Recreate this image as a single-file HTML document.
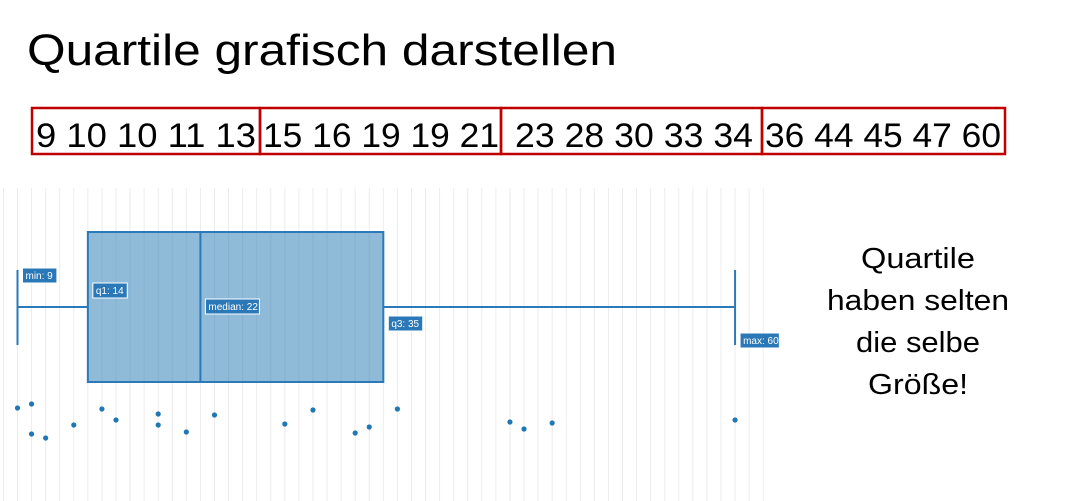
<!DOCTYPE html>
<html><head><meta charset="utf-8"><style>
html,body{margin:0;padding:0;background:#fff;}
svg{display:block;font-family:"Liberation Sans",sans-serif;}
</style></head><body>
<svg id="chart" width="1091" height="501" viewBox="0 0 1091 501">
<text x="27" y="65" font-size="44" fill="#000" textLength="590" lengthAdjust="spacingAndGlyphs">Quartile grafisch darstellen</text>
<g>
<rect x="32" y="108" width="228" height="46" fill="none" stroke="#c00000" stroke-width="2.5"/>
<rect x="260" y="108" width="241" height="46" fill="none" stroke="#c00000" stroke-width="2.5"/>
<rect x="501" y="108" width="261" height="46" fill="none" stroke="#c00000" stroke-width="2.5"/>
<rect x="762" y="108" width="243" height="46" fill="none" stroke="#c00000" stroke-width="2.5"/>
<text x="36" y="147" font-size="34" textLength="220" lengthAdjust="spacingAndGlyphs">9 10 10 11 13</text>
<text x="263" y="147" font-size="34" textLength="236" lengthAdjust="spacingAndGlyphs">15 16 19 19 21</text>
<text x="515" y="147" font-size="34" textLength="238" lengthAdjust="spacingAndGlyphs">23 28 30 33 34</text>
<text x="765" y="147" font-size="34" textLength="236" lengthAdjust="spacingAndGlyphs">36 44 45 47 60</text>
</g>
<g id="grid"></g>
<g id="plot"></g>
<g font-size="29" text-anchor="middle" fill="#000">
<text x="918" y="268" textLength="114" lengthAdjust="spacingAndGlyphs">Quartile</text>
<text x="918" y="310" textLength="182" lengthAdjust="spacingAndGlyphs">haben selten</text>
<text x="918" y="352" textLength="124" lengthAdjust="spacingAndGlyphs">die selbe</text>
<text x="918" y="394" textLength="100" lengthAdjust="spacingAndGlyphs">Größe!</text>
</g>
</svg>
<script>
const values = [9,10,10,11,13,15,16,19,19,21,23,28,30,33,34,36,44,45,47,60];
const jitterY = [408,404,434,438,425,409,420,414,425,432,415,424,410,433,427,409,422,429,423,420];
const statNames = ["min","q1","median","q3","max"];
const statValues = [9,14,22,35,60];
const gridMin = 8, gridMax = 62;
const NS="http://www.w3.org/2000/svg";
function x(v){return 17.5+(v-9)*14.07;}
function mk(tag,attrs,parent){const e=document.createElementNS(NS,tag);for(const k in attrs)e.setAttribute(k,attrs[k]);parent.appendChild(e);return e;}
const grid=document.getElementById('grid'), plot=document.getElementById('plot');
for(let v=gridMin;v<=gridMax;v++){
  const l=mk('line',{x1:x(v),x2:x(v),y1:188,y2:501,stroke:'#ececec','stroke-width':1},grid);
  
  
}
const [mn,q1,md,q3,mx]=statValues;
const C='#2a7ab9';
let e;
e=mk('rect',{x:x(q1),y:232,width:x(q3)-x(q1),height:150,fill:'rgba(31,119,180,0.5)',stroke:C,'stroke-width':2},plot);


e=mk('line',{x1:x(md),x2:x(md),y1:232,y2:382,stroke:C,'stroke-width':2},plot);


e=mk('line',{x1:x(mn),x2:x(q1),y1:307,y2:307,stroke:C,'stroke-width':2},plot);


e=mk('line',{x1:x(q3),x2:x(mx),y1:307,y2:307,stroke:C,'stroke-width':2},plot);


e=mk('line',{x1:x(mn),x2:x(mn),y1:270,y2:345,stroke:C,'stroke-width':2},plot);


e=mk('line',{x1:x(mx),x2:x(mx),y1:270,y2:345,stroke:C,'stroke-width':2},plot);


values.forEach((v,i)=>{
  const d=mk('circle',{cx:x(v),cy:jitterY[i],r:2.6,fill:'#1f77b4'},plot);
  
  
});
const labelY=[268,283,299,316,333];
statNames.forEach((n,i)=>{
  const g=mk('g',{},plot);
  
  
  const t=n+': '+statValues[i];
  const w=t.length*4.9+5;
  const lx=x(statValues[i])+5;
  mk('rect',{x:lx,y:labelY[i],width:w,height:15,fill:'#2a78b8',stroke:'#fff','stroke-width':1},g);
  const tx=mk('text',{x:lx+3,y:labelY[i]+11,'font-size':10,fill:'#fff'},g);
  tx.textContent=t;
});
</script>
</body></html>
